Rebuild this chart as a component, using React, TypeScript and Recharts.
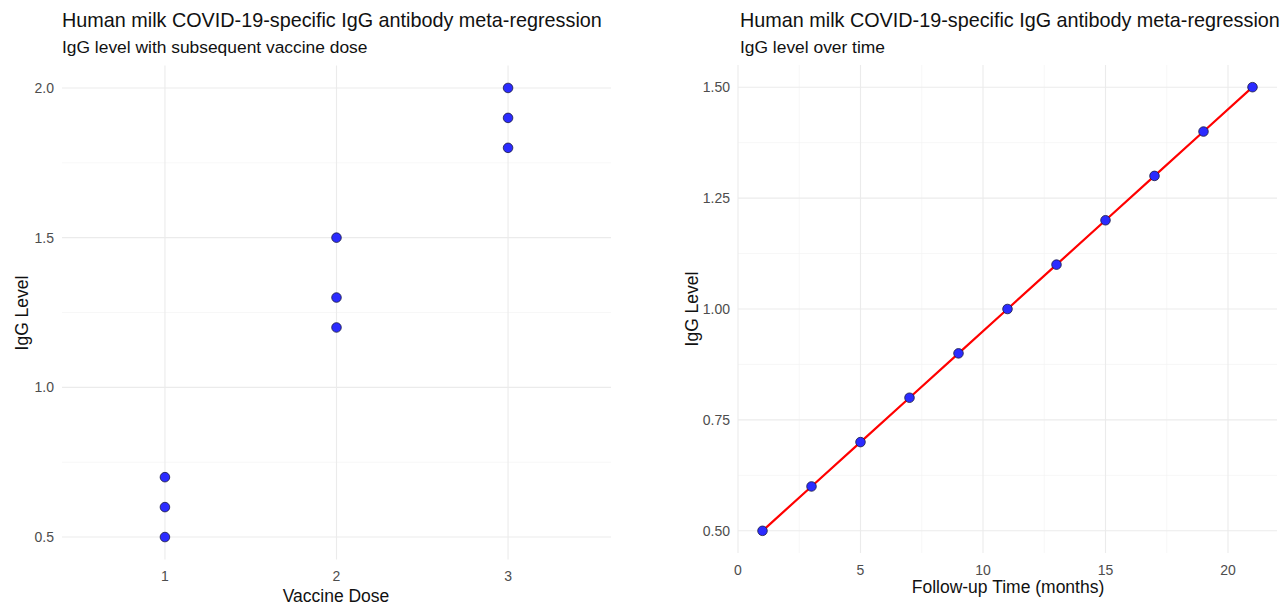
import {
  CartesianGrid,
  ComposedChart,
  Line,
  Scatter,
  ScatterChart,
  XAxis,
  YAxis,
  ZAxis,
} from "recharts";

// left panel: IgG by vaccine dose
const doseValues = [1, 1, 1, 2, 2, 2, 3, 3, 3];
const doseIgg = [0.5, 0.6, 0.7, 1.2, 1.3, 1.5, 1.8, 1.9, 2.0];
const doseTicks = [1, 2, 3];
const doseYTicks = [0.5, 1.0, 1.5, 2.0];
const doseYMinor = [0.75, 1.25, 1.75];

// right panel: IgG over follow-up time
const months = [1, 3, 5, 7, 9, 11, 13, 15, 17, 19, 21];
const timeIgg = [0.5, 0.6, 0.7, 0.8, 0.9, 1.0, 1.1, 1.2, 1.3, 1.4, 1.5];
const timeTicks = [0, 5, 10, 15, 20];
const timeMinor = [2.5, 7.5, 12.5, 17.5];
const timeYTicks = [0.5, 0.75, 1.0, 1.25, 1.5];
const timeYMinor = [0.625, 0.875, 1.125, 1.375];

const TITLE = "Human milk COVID-19-specific IgG antibody meta-regression";

const FONT = "'Liberation Sans', Arial, sans-serif";
const tickStyle = { fontSize: 14, fill: "#4d4d4d", fontFamily: FONT };

const doseData = doseValues.map((dose, i) => ({ dose, igg: doseIgg[i] }));
const timeData = months.map((time, i) => ({ time, igg: timeIgg[i] }));

const Dot = (props: any) => (
  <circle cx={props.cx} cy={props.cy} r={4.8} fill="#2b2bff" stroke="#1a1a40" strokeWidth={0.8} />
);

const Heading = ({ left, sub }: { left: number; sub: string }) => (
  <>
    <div style={{ position: "absolute", left, top: 8.5, fontSize: 19.8, color: "#111", whiteSpace: "nowrap" }}>{TITLE}</div>
    <div style={{ position: "absolute", left, top: 37, fontSize: 17.4, color: "#111", whiteSpace: "nowrap" }}>{sub}</div>
  </>
);

const AxisTitle = ({ x, y, text, rotate }: { x: number; y: number; text: string; rotate?: boolean }) => (
  <div
    style={{
      position: "absolute",
      left: x,
      top: y,
      fontSize: 17.5,
      color: "#111",
      whiteSpace: "nowrap",
      transform: `translate(-50%, -50%)${rotate ? " rotate(-90deg)" : ""}`,
    }}
  >
    {text}
  </div>
);

export default function App() {
  return (
    <div style={{ position: "absolute", left: 0, top: 0, width: 1283, height: 607, background: "#fff", fontFamily: FONT }}>
      <Heading left={62} sub="IgG level with subsequent vaccine dose" />
      <Heading left={740} sub="IgG level over time" />

      <div style={{ position: "absolute", left: 0, top: 0 }}>
        <ScatterChart width={640} height={607} margin={{ top: 65.5, right: 29, bottom: 17.5, left: 22 }}>
          <CartesianGrid horizontalValues={doseYMinor} vertical={false} stroke="#f2f2f2" strokeWidth={0.6} />
          <CartesianGrid horizontalValues={doseYTicks} verticalValues={doseTicks} stroke="#ebebeb" strokeWidth={1.1} />
          <XAxis
            type="number"
            dataKey="dose"
            domain={[0.4, 3.6]}
            ticks={doseTicks}
            axisLine={false}
            tickLine={false}
            tickMargin={6}
            height={30}
            tick={tickStyle}
          />
          <YAxis
            type="number"
            dataKey="igg"
            domain={[0.425, 2.075]}
            ticks={doseYTicks}
            tickFormatter={(v: number) => v.toFixed(1)}
            axisLine={false}
            tickLine={false}
            width={40}
            tick={tickStyle}
          />
          <ZAxis range={[70, 70]} />
          <Scatter data={doseData} shape={Dot} isAnimationActive={false} />
        </ScatterChart>
      </div>

      <div style={{ position: "absolute", left: 640, top: 0 }}>
        <ComposedChart width={643} height={607} data={timeData} margin={{ top: 65, right: 6, bottom: 24, left: 48 }}>
          <CartesianGrid horizontalValues={timeYMinor} verticalValues={timeMinor} stroke="#f2f2f2" strokeWidth={0.6} />
          <CartesianGrid horizontalValues={timeYTicks} verticalValues={timeTicks} stroke="#ebebeb" strokeWidth={1.1} />
          <XAxis
            type="number"
            dataKey="time"
            domain={[0, 22]}
            ticks={timeTicks}
            axisLine={false}
            tickLine={false}
            tickMargin={6}
            height={30}
            tick={tickStyle}
          />
          <YAxis
            type="number"
            domain={[0.45, 1.55]}
            ticks={timeYTicks}
            tickFormatter={(v: number) => v.toFixed(2)}
            axisLine={false}
            tickLine={false}
            width={50}
            tick={tickStyle}
          />
          <Scatter dataKey="igg" shape={Dot} isAnimationActive={false} />
          <Line dataKey="igg" type="linear" stroke="#ff0000" strokeWidth={2.2} dot={false} activeDot={false} isAnimationActive={false} />
        </ComposedChart>
      </div>

      <AxisTitle x={336} y={596} text="Vaccine Dose" />
      <AxisTitle x={22} y={313} text="IgG Level" rotate />
      <AxisTitle x={1008} y={587} text="Follow-up Time (months)" />
      <AxisTitle x={692} y={309} text="IgG Level" rotate />
    </div>
  );
}
